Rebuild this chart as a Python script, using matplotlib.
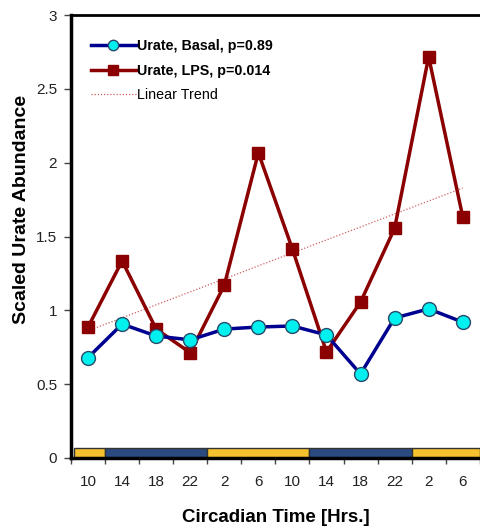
import matplotlib
matplotlib.use("Agg")
import matplotlib.pyplot as plt
import numpy as np

plt.rcParams['font.family'] = ['Liberation Sans', 'DejaVu Sans']

hours = ["10", "14", "18", "22", "2", "6", "10", "14", "18", "22", "2", "6"]
basal = [0.68, 0.907, 0.826, 0.80, 0.873, 0.887, 0.894, 0.833, 0.569, 0.948, 1.01, 0.92]
lps = [0.887, 1.335, 0.873, 0.713, 1.17, 2.067, 1.415, 0.718, 1.056, 1.555, 2.717, 1.634]
# light/dark phases: (start index, end index, phase)
phases = [(0, 0, "light"), (1, 3, "dark"), (4, 6, "light"), (7, 9, "dark"), (10, 11, "light")]
phase_colors = {"light": "#F6C12E", "dark": "#2B4A80"}

fig = plt.figure(figsize=(4.8, 5.31), dpi=100)
ax = fig.add_axes([0.148, 0.1375, 0.855, 0.8342])

x = np.arange(len(hours))
ax.plot(x, basal, color="#000090", lw=2.5, marker="o", ms=10,
        mfc="#00F0F0", mec="#2A4A6A", mew=1.0, zorder=4, label="Urate, Basal, p=0.89")
ax.plot(x, lps, color="#8B0000", lw=2.5, marker="s", ms=9,
        mfc="#8B0000", mec="#8B0000", zorder=3, label="Urate, LPS, p=0.014")

coef = np.polyfit(x, lps, 1)
ax.plot(x, np.polyval(coef, x), color="#D06060", lw=0.9, ls=(0, (1, 1.5)),
        zorder=2, label="Linear Trend")

# phase bar
for s, e, ph in phases:
    left = s - 0.5 + (0.1 if s == 0 else 0)
    ax.bar(left, 0.07, width=(e - s + 1) - (0.1 if s == 0 else 0), bottom=0.0,
           align="edge", color=phase_colors[ph], edgecolor="#333333", lw=1.0, zorder=2)

ax.set_xlim(-0.5, 11.55)
ax.set_ylim(0, 3)
ax.set_yticks([0, 0.5, 1, 1.5, 2, 2.5, 3])
ax.set_yticklabels(["0", "0.5", "1", "1.5", "2", "2.5", "3"])
ax.set_xticks(x)
ax.set_xticklabels(hours)
ax.set_xticks(np.arange(-0.5, 12, 1), minor=True)
ax.tick_params(axis="x", which="major", length=0, pad=12, labelsize=11, colors="#222222")
ax.tick_params(axis="x", which="minor", length=4, width=1, color="#444444")
ax.tick_params(axis="y", length=5, width=1, pad=5, labelsize=11, color="#444444", labelcolor="#222222")

for side in ["left", "bottom"]:
    ax.spines[side].set_linewidth(2.5)
    ax.spines[side].set_color("black")
ax.spines["top"].set_linewidth(2.0)
ax.spines["right"].set_visible(False)

ax.set_ylabel("Scaled Urate Abundance", fontsize=14, fontweight="bold")
ax.yaxis.set_label_coords(-0.1, 0.56)
ax.set_xlabel("Circadian Time [Hrs.]", fontsize=13.5, fontweight="bold", labelpad=15)

leg = ax.legend(loc="upper left", bbox_to_anchor=(0.018, 0.975), frameon=False,
                handlelength=3.1, handletextpad=0.12, labelspacing=0.75, fontsize=10.3,
                markerscale=0.75)
for t in leg.get_texts()[:2]:
    t.set_fontweight("bold")

fig.savefig("out.png", dpi=100)
